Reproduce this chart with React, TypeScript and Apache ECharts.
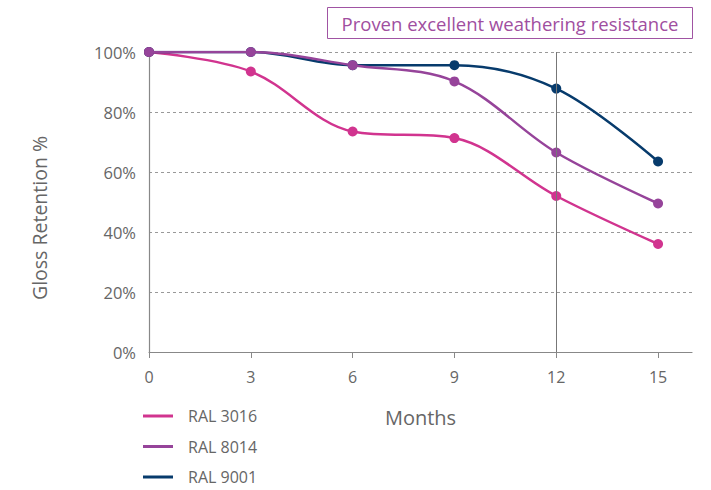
import React, { useEffect, useRef } from "react";
import * as echarts from "echarts";

const months = [0, 3, 6, 9, 12, 15];
const ral3016 = [100, 93.5, 73.5, 71.3, 52, 36];
const ral8014 = [100, 100, 95.6, 90.2, 66.5, 49.5];
const ral9001 = [100, 100, 95.6, 95.6, 87.8, 63.5];
const seriesNames = ["RAL 3016", "RAL 8014", "RAL 9001"];
const colors = ["#D1348F", "#96449A", "#073B6C"];
const titleText = "Proven excellent weathering resistance";

export default function App() {
  const ref = useRef<HTMLDivElement>(null);
  useEffect(() => {
    if (!ref.current) return;
    const chart = echarts.init(ref.current, undefined, { renderer: "svg" });
    const font = "'Open Sans', sans-serif";
    const mk = (name: string, vals: number[], color: string, z: number, extra: any = {}) => ({
      name,
      type: "line",
      smooth: 0.35,
      z,
      data: months.map((m, i) => [m, vals[i]]),
      symbol: "circle",
      symbolSize: 10,
      itemStyle: { color },
      lineStyle: { color, width: 2.5 },
      ...extra,
    });
    chart.setOption({
      animation: false,
      textStyle: { fontFamily: font },
      grid: { left: 149, right: 19, top: 52, bottom: 138 },
      graphic: [
        {
          type: "rect",
          shape: { x: 327.5, y: 7.5, width: 365, height: 31 },
          style: { fill: "#fff", stroke: "#A054A3", lineWidth: 1 },
        },
        {
          type: "text",
          x: 510,
          y: 23,
          style: {
            text: titleText,
            fill: "#A04E9F",
            font: `18.5px ${font}`,
            align: "center",
            verticalAlign: "middle",
          },
        },
        {
          type: "text",
          x: 39,
          y: 218,
          rotation: Math.PI / 2,
          style: {
            text: "Gloss Retention %",
            fill: "#666",
            font: `19.5px ${font}`,
            align: "center",
            verticalAlign: "middle",
          },
        },
      ],
      legend: {
        orient: "vertical",
        left: 143,
        top: 408,
        height: 82,
        padding: 0,
        itemGap: 14.5,
        icon: "rect",
        itemWidth: 30,
        itemHeight: 3,
        data: seriesNames,
        textStyle: { fontSize: 16, color: "#666", fontFamily: font, padding: [0, 0, 0, 10] },
      },
      xAxis: {
        type: "value",
        min: 0,
        max: 16,
        interval: 3,
        name: "Months",
        nameLocation: "middle",
        nameGap: 55,
        nameTextStyle: { fontSize: 20, color: "#666", fontFamily: font },
        axisLine: { lineStyle: { color: "#888", width: 1.2 } },
        axisTick: { show: true, length: 6, lineStyle: { color: "#888" }, customValues: months },
        axisLabel: { fontSize: 16, color: "#666", margin: 17, customValues: months },
        splitLine: { show: false },
      },
      yAxis: {
        type: "value",
        min: 0,
        max: 100,
        interval: 20,
        axisLine: { show: true, lineStyle: { color: "#888", width: 1.2 } },
        axisTick: { show: false },
        axisLabel: { fontSize: 16.5, color: "#666", margin: 13, formatter: "{value}%" },
        splitLine: { show: true, lineStyle: { color: "#999", type: [3, 3], width: 1 } },
      },
      series: [
        mk(seriesNames[0], ral3016, colors[0], 2),
        mk(seriesNames[1], ral8014, colors[1], 4),
        mk(seriesNames[2], ral9001, colors[2], 3, {
          markLine: {
            silent: true,
            symbol: "none",
            label: { show: false },
            lineStyle: { color: "#777", type: "solid", width: 1 },
            data: [{ xAxis: 12 }],
          },
        }),
      ],
    });
    return () => chart.dispose();
  }, []);
  return <div ref={ref} style={{ width: 711, height: 490, position: "absolute", left: 0, top: 0 }} />;
}
